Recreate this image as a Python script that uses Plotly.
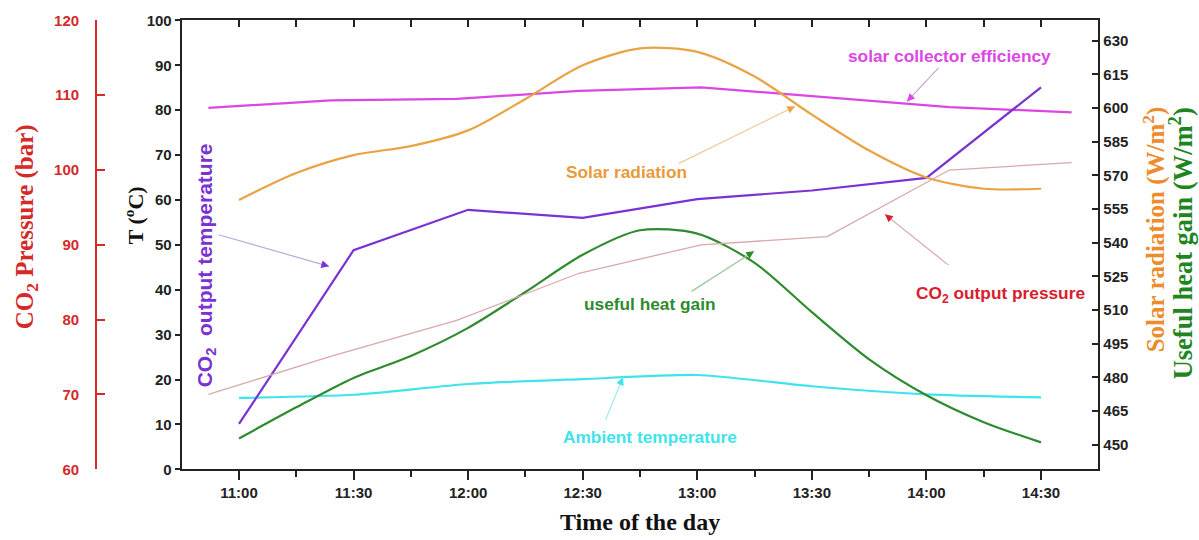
import plotly.graph_objects as go

W, H = 1199, 540

# ---------------- data ----------------
# time in minutes after midnight
time_15 = [660, 675, 690, 705, 720, 735, 750, 765, 780, 795, 810, 825, 840, 855, 870]
time_30 = [660, 690, 720, 750, 780, 810, 840, 870]
time_eff = [652, 684, 717, 749, 781, 814, 846, 878]

solar_radiation = [559, 571, 579, 583, 590, 604, 619, 626.5, 625, 614, 597, 581, 569, 564, 564]
useful_heat_gain = [452.7, 466.6, 479.7, 489.5, 502, 518, 534.6, 545.5, 544, 531, 509, 488, 472, 460, 451]
co2_out_temp = [10.1, 48.8, 57.8, 56.0, 60.2, 62.1, 64.9, 85.1]
ambient_temp = [15.9, 16.6, 19.0, 20.1, 21.0, 18.5, 16.7, 16.0]
collector_eff = [80.5, 82.2, 82.5, 84.3, 85.1, 82.8, 80.7, 79.5]
co2_pressure = [70.0, 75.1, 79.9, 86.2, 90.0, 91.1, 100.0, 101.0]

x_tickvals = [660, 690, 720, 750, 780, 810, 840, 870]
x_ticktext = ["11:00", "11:30", "12:00", "12:30", "13:00", "13:30", "14:00", "14:30"]
x_minor = [675, 705, 735, 765, 795, 825, 855]
top_ticks = [660, 675, 690, 705, 720, 735, 750, 765, 780, 795, 810, 825, 840, 855, 870]
right_ticks = [450, 465, 480, 495, 510, 525, 540, 555, 570, 585, 600, 615, 630]

# ---------------- style ----------------
C_MAG = "#DC46E4"
C_ORA = "#E9A345"
C_PUR = "#7A32D2"
C_GRN = "#2E8B2E"
C_CYA = "#3FE3EC"
C_PRS = "#D9A8A8"
C_RED = "#D42A2A"

SANS = "Liberation Sans, Arial"
SERIF = "Liberation Serif, Times New Roman, serif"

# vertical compensation of the rendered page
VA, VB = 0.9688, 7.59

def ys(y):
    return (y - VB) / VA

L, R, T, B = 181.7, 1098.3, 19.0, 468.0
xdom = [L / W, R / W]
ydom = [1 - ys(B) / H, 1 - ys(T) / H]

def px(x, y):
    return x / W, 1 - ys(y) / H

fig = go.Figure()

fig.add_trace(go.Scatter(x=time_eff, y=collector_eff, mode="lines", line=dict(color=C_MAG, width=2.2), yaxis="y"))
fig.add_trace(go.Scatter(x=time_eff, y=co2_pressure, mode="lines", line=dict(color=C_PRS, width=1.3), yaxis="y3"))
fig.add_trace(go.Scatter(x=time_15, y=solar_radiation, mode="lines", line=dict(color=C_ORA, width=2.2, shape="spline", smoothing=0.8), yaxis="y2"))
fig.add_trace(go.Scatter(x=time_15, y=useful_heat_gain, mode="lines", line=dict(color=C_GRN, width=2.2, shape="spline", smoothing=0.8), yaxis="y2"))
fig.add_trace(go.Scatter(x=time_30, y=ambient_temp, mode="lines", line=dict(color=C_CYA, width=2.2, shape="spline", smoothing=0.6), yaxis="y"))
fig.add_trace(go.Scatter(x=time_30, y=co2_out_temp, mode="lines", line=dict(color=C_PUR, width=2.2), yaxis="y"))
fig.add_trace(go.Scatter(x=[], y=[], xaxis="x2", yaxis="y", showlegend=False))

tick_font = dict(family=SANS, size=15, color="#222", weight="bold")

fig.update_layout(
    width=W, height=H, margin=dict(l=0, r=0, t=0, b=0),
    paper_bgcolor="white", plot_bgcolor="white", showlegend=False,
    xaxis=dict(domain=xdom, range=[645, 885], tickmode="array", tickvals=x_tickvals, ticktext=x_ticktext,
               ticks="outside", ticklen=9, tickwidth=1.6, tickcolor="#222", tickfont=tick_font,
               showline=True, linewidth=2, linecolor="#222", showgrid=False, zeroline=False,
               minor=dict(tickmode="array", tickvals=x_minor, ticks="outside", ticklen=6, tickwidth=1.6, tickcolor="#222"),
               anchor="y"),
    xaxis2=dict(overlaying="x", side="top", range=[645, 885], tickmode="array", tickvals=top_ticks,
                ticks="inside", ticklen=7, tickwidth=1.6, tickcolor="#222", showticklabels=False,
                showline=True, linewidth=2, linecolor="#222", showgrid=False, zeroline=False, anchor="y"),
    yaxis=dict(domain=ydom, range=[0, 100], dtick=10, tick0=0, ticks="outside", ticklen=5, tickwidth=1.6,
               tickcolor="#222", tickfont=tick_font, showline=True, linewidth=2, linecolor="#222",
               showgrid=False, zeroline=False, anchor="x"),
    yaxis2=dict(overlaying="y", side="right", anchor="x", range=[439, 639], tickmode="array", tickvals=right_ticks,
                ticks="inside", ticklen=6, tickwidth=1.6, tickcolor="#222", tickfont=tick_font,
                showline=True, linewidth=2, linecolor="#222", showgrid=False, zeroline=False),
    yaxis3=dict(overlaying="y", side="left", anchor="free", position=96 / W, range=[60, 120], dtick=10, tick0=60,
                ticks="inside", ticklen=8, tickwidth=1.6, tickcolor=C_RED,
                tickfont=dict(family=SANS, size=15, color=C_RED, weight="bold"), ticklabelstandoff=13,
                showline=True, linewidth=1.8, linecolor=C_RED, showgrid=False, zeroline=False),
)

ann = []

def text(x, y, s, color, size, family, angle=0, weight="bold"):
    xx, yy = px(x, y)
    ann.append(dict(x=xx, y=yy, xref="paper", yref="paper", text=s, showarrow=False, textangle=angle,
                    xanchor="center", yanchor="middle",
                    font=dict(family=family, size=size, color=color, weight=weight)))

def arrow(tail, tip, line_color, head_color):
    tx, ty = px(*tip)
    dx, dy = tail[0] - tip[0], tail[1] - tip[1]
    ann.append(dict(x=tx, y=ty, xref="paper", yref="paper", text="", showarrow=True, arrowhead=0,
                    arrowwidth=1.2, arrowcolor=line_color, ax=dx, ay=dy))
    n = (dx * dx + dy * dy) ** 0.5
    ann.append(dict(x=tx, y=ty, xref="paper", yref="paper", text="", showarrow=True, arrowhead=2,
                    arrowsize=1.1, arrowwidth=1.4, arrowcolor=head_color, ax=dx / n * 9, ay=dy / n * 9))

# axis titles
text(640, 521, "Time of the day", "#111", 24, SERIF)
text(134, 214, "T (<sup>o</sup>C)", "#111", 22, SERIF, -90)
text(26, 226, "CO<sub>2</sub> Pressure (bar)", C_RED, 25, SERIF, -90)
text(1154, 228, "Solar radiation (W/m<sup>2</sup>)", "#EC8C2C", 25, SERIF, -90)
text(1181, 242, "Useful heat gain (W/m<sup>2</sup>)", "#1F861F", 26.5, SERIF, -90)

# series labels
text(949, 55, "solar collector efficiency", C_MAG, 17.3, SANS)
text(626, 171, "Solar radiation", "#E89A3A", 17.3, SANS)
text(1000, 293, "CO<sub>2</sub> output pressure", "#D8202C", 17.3, SANS)
text(650, 303, "useful heat gain", C_GRN, 17.3, SANS)
text(650, 436, "Ambient temperature", C_CYA, 17.3, SANS)
text(206, 264, "CO<sub>2</sub>  output temperature", C_PUR, 21, SANS, -90)

# arrows
arrow((940, 65), (907, 100), "#C9A3D6", C_MAG)
arrow((677, 163), (795, 105), "#EFCB9A", C_ORA)
arrow((217, 233), (329, 265), "#B9A9D9", C_PUR)
arrow((950, 265), (885, 213), "#D9A6A6", "#D8202C")
arrow((690, 291), (754, 250), "#9CC79C", C_GRN)
arrow((605, 420), (623, 376), "#9EE9EC", C_CYA)

fig.update_layout(annotations=ann)
fig.write_html("out.html")
